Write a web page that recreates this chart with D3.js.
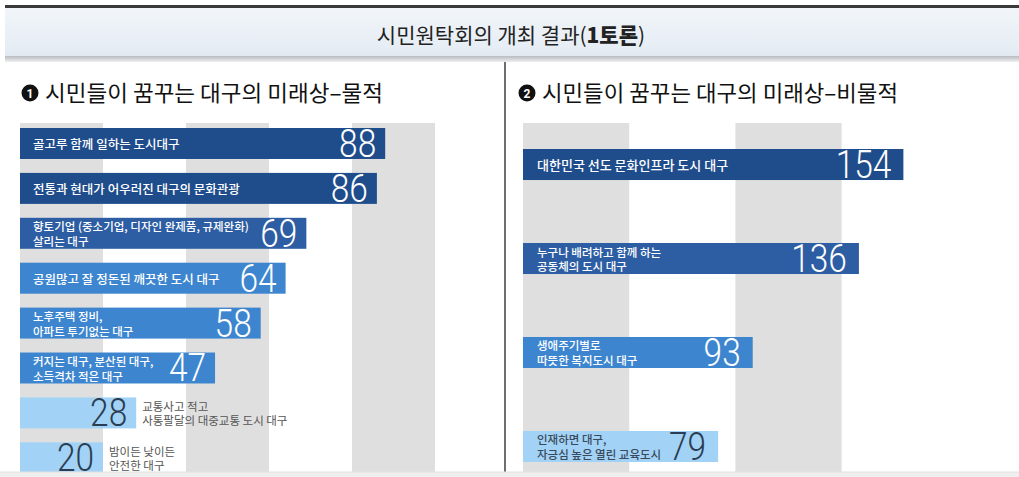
<!DOCTYPE html>
<html>
<head>
<meta charset="utf-8">
<script src="https://cdn.jsdelivr.net/npm/d3@7"></script>
<style>
  body { margin: 0; background: #fff; }
  svg { display: block; font-family: "Noto Sans CJK KR", "Noto Sans", sans-serif; }
</style>
</head>
<body>
<div class="chart"></div>
<script>
// chart data
const chartTitle = '시민원탁회의 개최 결과(';
const chartTitleBold = '1토론';
const panelTitles = ['시민들이 꿈꾸는 대구의 미래상–물적', '시민들이 꿈꾸는 대구의 미래상–비물적'];
const panelNumbers = ['1', '2'];

const leftLabels = [
  '골고루 함께 일하는 도시대구',
  '전통과 현대가 어우러진 대구의 문화관광',
  '향토기업 (중소기업, 디자인 완제품, 규제완화)\n살리는 대구',
  '공원많고 잘 정돈된 깨끗한 도시 대구',
  '노후주택 정비,\n아파트 투기없는 대구',
  '커지는 대구, 분산된 대구,\n소득격차 적은 대구',
  '교통사고 적고\n사통팔달의 대중교통 도시 대구',
  '밤이든 낮이든\n안전한 대구'
];
const leftValues = [88, 86, 69, 64, 58, 47, 28, 20];

const rightLabels = [
  '대한민국 선도 문화인프라 도시 대구',
  '누구나 배려하고 함께 하는\n공동체의 도시 대구',
  '생애주기별로\n따뜻한 복지도시 대구',
  '인재하면 대구,\n자긍심 높은 열린 교육도시'
];
const rightValues = [154, 136, 93, 79];

// styles
const navy = '#1f4d8c', midDark = '#2d5da3', mid = '#3d86cf', light = '#a2d3f6';
const leftColors = [navy, navy, midDark, mid, mid, mid, light, light];
const rightColors = [navy, midDark, mid, light];

const width = 1019, height = 477;

const svg = d3.select('.chart').append('svg')
  .attr('width', width)
  .attr('height', height);

// title band
const defs = svg.append('defs');
const g1 = defs.append('linearGradient').attr('id', 'band').attr('x1', 0).attr('x2', 0).attr('y1', 0).attr('y2', 1);
g1.append('stop').attr('offset', '0%').attr('stop-color', '#f1f5f9');
g1.append('stop').attr('offset', '80%').attr('stop-color', '#e6edf4');
g1.append('stop').attr('offset', '100%').attr('stop-color', '#e2e8ef');
const g2 = defs.append('linearGradient').attr('id', 'shadow').attr('x1', 0).attr('x2', 0).attr('y1', 0).attr('y2', 1);
g2.append('stop').attr('offset', '0%').attr('stop-color', '#b9bcc0');
g2.append('stop').attr('offset', '100%').attr('stop-color', '#eceeef');

svg.append('rect').attr('x', 5).attr('y', 8).attr('width', width - 5).attr('height', 50).attr('fill', 'url(#band)');
svg.append('rect').attr('x', 5).attr('y', 56).attr('width', width - 5).attr('height', 6).attr('fill', 'url(#shadow)');
svg.append('rect').attr('x', 5).attr('y', 5).attr('width', width - 5).attr('height', 3).attr('fill', '#3a3a3a');

const title = svg.append('text')
  .attr('x', 511).attr('y', 43)
  .attr('text-anchor', 'middle')
  .attr('font-size', 21)
  .attr('fill', '#222')
  .attr('font-weight', 400);
title.append('tspan').text(chartTitle);
title.append('tspan').attr('font-weight', 800).text(chartTitleBold);
title.append('tspan').text(')');

// divider
svg.append('line')
  .attr('x1', 505).attr('x2', 505).attr('y1', 62).attr('y2', 472)
  .attr('stroke', '#6e6e6e').attr('stroke-width', 2);

function drawPanel(cfg) {
  const g = svg.append('g');
  const x = d3.scaleLinear().domain([0, cfg.max]).range([cfg.x0, cfg.x0 + cfg.max * cfg.k]);
  const y = d3.scaleBand()
    .domain(d3.range(cfg.values.length))
    .range(cfg.yRange)
    .paddingInner(cfg.pad)
    .paddingOuter(0);

  // grid stripes
  const starts = d3.range(0, cfg.gridMax, cfg.step).filter((d, i) => i % 2 === 0);
  g.selectAll('rect.stripe').data(starts).join('rect')
    .attr('class', 'stripe')
    .attr('x', d => x(d))
    .attr('width', d => x(d + cfg.step) - x(d))
    .attr('y', 123).attr('height', 349)
    .attr('fill', '#dfdfdf');

  // heading
  g.append('circle').attr('cx', cfg.hx + 8).attr('cy', 93).attr('r', 8.5).attr('fill', '#111');
  g.append('text').attr('x', cfg.hx + 8).attr('y', 93.5)
    .attr('text-anchor', 'middle').attr('dominant-baseline', 'central')
    .attr('font-size', 12).attr('font-weight', 700).attr('fill', '#fff')
    .attr('font-family', 'Roboto, sans-serif')
    .text(cfg.num);
  g.append('text').attr('x', cfg.hx + 23).attr('y', 101)
    .attr('font-size', 22).attr('font-weight', 400).attr('fill', '#111')
    .attr('textLength', cfg.titleLen).attr('lengthAdjust', 'spacingAndGlyphs')
    .text(cfg.title);

  const rows = g.selectAll('g.row').data(cfg.values).join('g').attr('class', 'row');

  rows.append('rect')
    .attr('x', x(0))
    .attr('y', (d, i) => y(i))
    .attr('width', d => x(d) - x(0))
    .attr('height', y.bandwidth())
    .attr('fill', (d, i) => cfg.colors[i]);

  const isLight = i => cfg.colors[i] === light;

  // values
  rows.append('g')
    .attr('transform', (d, i) => `translate(${x(d) - cfg.valPad},${y(i) + y.bandwidth() - 2}) scale(0.88,1)`)
    .append('text')
    .attr('class', 'val')
    .attr('text-anchor', 'end')
    .attr('font-family', 'Roboto, "Liberation Sans", sans-serif')
    .attr('font-weight', 300)
    .attr('font-size', 38)
    .attr('fill', (d, i) => isLight(i) ? '#2b3d52' : '#fff')
    .text(d => d);

  // labels
  rows.each(function(d, i) {
    const row = d3.select(this);
    const lines = cfg.labels[i].split('\n');
    const outside = cfg.outside.includes(i);
    const lx = outside ? x(d) + 6 : x(0) + cfg.labPad;
    const mid = y(i) + y.bandwidth() / 2;
    const valW = row.select('text.val').node().getComputedTextLength() * 0.88;
    const maxW = outside ? 400 : x(d) - cfg.valPad - valW - 6 - lx;
    const fs = lines.length === 1 ? cfg.fs : 11.5;
    lines.forEach((line, j) => {
      const off = lines.length === 1 ? 0 : (j === 0 ? -7 : 7.5);
      const t = row.append('text')
        .attr('x', lx).attr('y', mid + off)
        .attr('dominant-baseline', 'central')
        .attr('font-size', outside ? 11.5 : fs)
        .attr('font-weight', outside ? 400 : 500)
        .attr('fill', outside ? '#555' : (isLight(i) ? '#3a4a5c' : '#fff'))
        .text(line);
      const w = t.node().getComputedTextLength();
      if (w > maxW) t.attr('textLength', maxW).attr('lengthAdjust', 'spacingAndGlyphs');
    });
  });
}

drawPanel({
  values: leftValues, labels: leftLabels, colors: leftColors,
  max: 100, x0: 20, k: 4.15, step: 20, gridMax: 100,
  yRange: [128, 473.3], pad: 0.31,
  hx: 22, num: panelNumbers[0], title: panelTitles[0], titleLen: 338,
  valPad: 9, labPad: 13, fs: 12.5, outside: [6, 7]
});

drawPanel({
  values: rightValues, labels: rightLabels, colors: rightColors,
  max: 154, x0: 523, k: 2.47, step: 43, gridMax: 172,
  yRange: [149, 462], pad: 0.67,
  hx: 519, num: panelNumbers[1], title: panelTitles[1], titleLen: 356,
  valPad: 12, labPad: 14, fs: 13, outside: []
});

// bottom edge
svg.append('rect').attr('x', 0).attr('y', 472).attr('width', width).attr('height', 5).attr('fill', '#efefef');
svg.append('line').attr('x1', 0).attr('x2', width).attr('y1', 472).attr('y2', 472).attr('stroke', '#e2e2e2');
</script>
</body>
</html>
